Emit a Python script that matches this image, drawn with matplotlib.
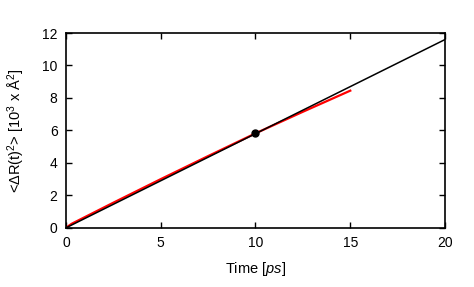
import numpy as np
import matplotlib
matplotlib.use("Agg")
import matplotlib.pyplot as plt

# ----------------------
# Data
# ----------------------
fit_time = [0, 20]
fit_msd = [0.0, 11.6]

sim_time = [0, 0.3, 2.5, 5, 7.5, 10, 12.5, 15]
sim_msd = [0.0, 0.25, 1.55, 3.0, 4.42, 5.82, 7.15, 8.45]

point_time = [10]
point_msd = [5.82]

plt.rcParams['font.family'] = ['Liberation Sans', 'DejaVu Sans']
plt.rcParams['mathtext.fontset'] = 'custom'
plt.rcParams['mathtext.rm'] = 'Liberation Sans'
plt.rcParams['mathtext.it'] = 'Liberation Sans:italic'
plt.rcParams['font.size'] = 10.5

fig = plt.figure(figsize=(4.74, 2.87), dpi=100)
ax = fig.add_axes([0.139, 0.206, 0.800, 0.679])

ax.plot(sim_time, sim_msd, color='red', lw=1.6, zorder=2)
ax.plot(fit_time, fit_msd, color='black', lw=1.1, zorder=3)
ax.plot(point_time, point_msd, 'o', color='black', ms=5, zorder=4)

ax.set_xlim(0, 20)
ax.set_ylim(0, 12)
ax.set_xticks([0, 5, 10, 15, 20])
ax.set_yticks([0, 2, 4, 6, 8, 10, 12])
ax.tick_params(direction='in', top=True, right=True, length=4, width=1,
               pad=6, labelsize=10)
for s in ax.spines.values():
    s.set_linewidth(1.2)

ax.set_xlabel(r'Time [$\it{ps}$]', labelpad=7)
ax.set_ylabel(r'<$\Delta$R(t)$^2$> [10$^3$ x Å$^2$]', labelpad=11)

fig.savefig('out.png', dpi=100)
